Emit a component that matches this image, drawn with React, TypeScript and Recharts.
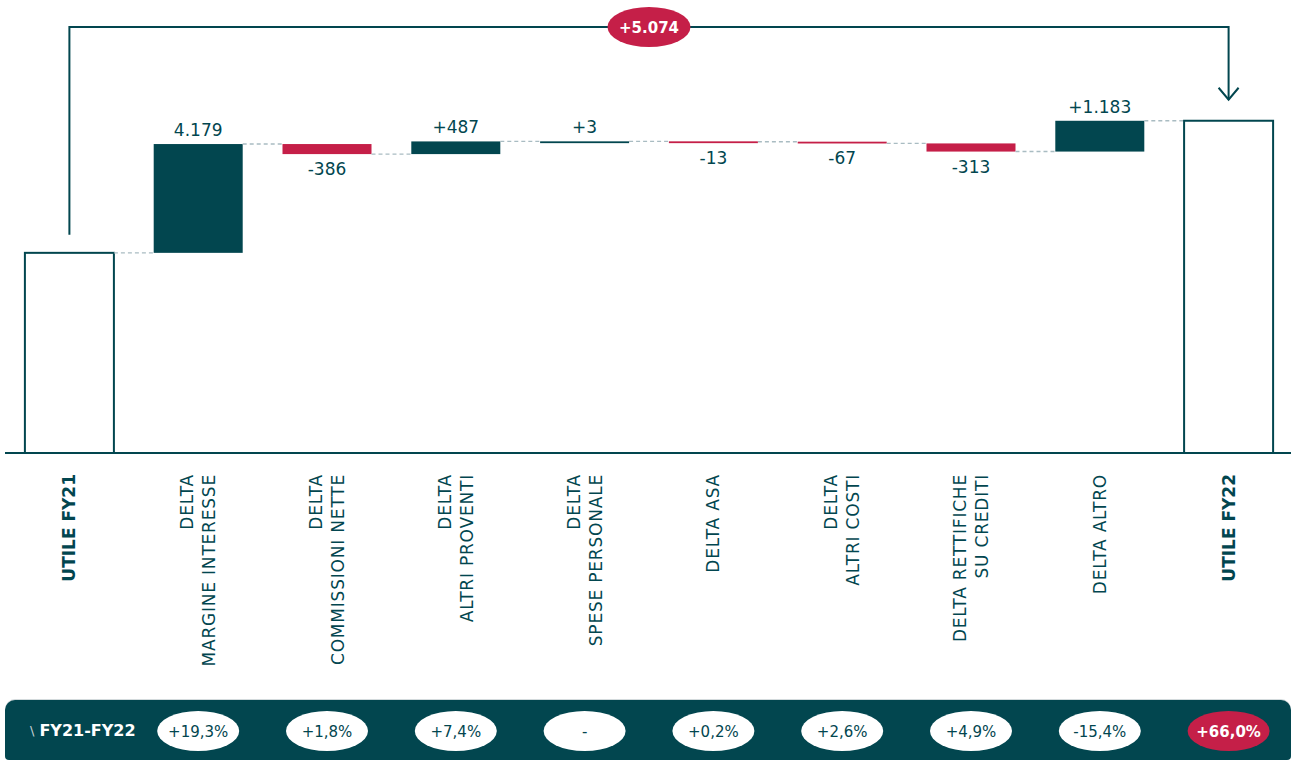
import React from 'react';
import { BarChart, Bar, XAxis, YAxis, ReferenceLine } from 'recharts';

const TEAL = '#02464F';
const RED = '#C51F48';
const DASH = '#A9BCC2';
const FONT = '"DejaVu Sans", sans-serif';

// ---- data ----
const categories = [
  'UTILE FY21',
  'DELTA\nMARGINE INTERESSE',
  'DELTA\nCOMMISSIONI NETTE',
  'DELTA\nALTRI PROVENTI',
  'DELTA\nSPESE PERSONALE',
  'DELTA ASA',
  'DELTA\nALTRI COSTI',
  'DELTA RETTIFICHE\nSU CREDITI',
  'DELTA ALTRO',
  'UTILE FY22',
];
const startTotal = 7688; // UTILE FY21
const endTotal = 12762; // UTILE FY22
const deltas = [4179, -386, 487, 3, -13, -67, -313, 1183];
const valueLabels = ['', '4.179', '-386', '+487', '+3', '-13', '-67', '-313', '+1.183', ''];
const changeLabels = ['', '+19,3%', '+1,8%', '+7,4%', '-', '+0,2%', '+2,6%', '+4,9%', '-15,4%', '+66,0%'];
const rowHeader = 'FY21-FY22';

const fmt = (n: number) => (n >= 0 ? '+' : '-') + String(Math.abs(n)).replace(/\B(?=(\d{3})+(?!\d))/g, '.');

let running = startTotal;
const data = categories.map((name, i) => {
  if (i === 0) {
    return { name, range: [0, startTotal], kind: 'total', label: valueLabels[i], change: changeLabels[i] };
  }
  if (i === categories.length - 1) {
    return { name, range: [0, endTotal], kind: 'total', label: valueLabels[i], change: changeLabels[i] };
  }
  const d = deltas[i - 1];
  const s = running;
  running += d;
  return {
    name,
    range: [Math.min(s, running), Math.max(s, running)],
    kind: d >= 0 ? 'up' : 'down',
    label: valueLabels[i],
    change: changeLabels[i],
  };
});

const GAP = 0.1545;

function WaterfallShape(props: any) {
  let { x, y, width, height } = props;
  const { payload, index } = props;
  if (height < 0) {
    y += height;
    height = -height;
  }
  const kind = payload.kind;
  const last = index === data.length - 1;
  const cx = x + width / 2;
  const endY = kind === 'down' ? y + height : y;
  const nextLeft = x + width + (width * 2 * GAP) / (1 - 2 * GAP);
  const h = Math.max(height, 1.8);
  return (
    <g>
      {kind === 'total' ? (
        <rect x={x} y={y} width={width} height={height} fill="#fff" stroke={TEAL} strokeWidth={2} />
      ) : (
        <rect x={x} y={y} width={width} height={h} fill={kind === 'up' ? TEAL : RED} />
      )}
      {!last && (
        <line x1={x + width} x2={nextLeft} y1={endY} y2={endY} stroke={DASH} strokeWidth={1.4} strokeDasharray="4 3" />
      )}
      {payload.label && (
        <text
          x={cx}
          y={kind === 'down' ? y + h + 21 : y - 8}
          textAnchor="middle"
          fontFamily={FONT}
          fontSize={17}
          fill={TEAL}
        >
          {payload.label}
        </text>
      )}
      {payload.change && (
        <g>
          <ellipse cx={cx} cy={731} rx={41} ry={20} fill={last ? RED : '#fff'} />
          <text
            x={cx}
            y={736.5}
            textAnchor="middle"
            fontFamily={FONT}
            fontSize={15}
            fontWeight={last ? 'bold' : 'normal'}
            fill={last ? '#fff' : TEAL}
          >
            {payload.change}
          </text>
        </g>
      )}
    </g>
  );
}

function CategoryTick(props: any) {
  const { x, y, payload } = props;
  const value = String(payload.value);
  const lines = value.split('\n');
  const bold = value.startsWith('UTILE');
  const n = lines.length;
  return (
    <g transform={`translate(${x},${y + 21}) rotate(-90)`}>
      <text
        textAnchor="end"
        fontFamily={FONT}
        fontSize={17}
        fontWeight={bold ? 'bold' : 'normal'}
        letterSpacing={bold ? 0 : 0.8}
        fill={TEAL}
      >
        {lines.map((ln, k) => (
          <tspan key={k} x={0} y={(k - (n - 1) / 2) * 22 + 6}>
            {ln}
          </tspan>
        ))}
      </text>
    </g>
  );
}

function BracketShape(props: any) {
  const { x1, y1, x2, y2 } = props;
  const top = 27;
  const mid = (x1 + x2) / 2;
  const tip = y2 - 21;
  return (
    <g>
      <path d={`M${x1},${y1 - 18} V${top} H${x2} V${tip}`} fill="none" stroke={TEAL} strokeWidth={2} />
      <path d={`M${x2 - 10},${tip - 12} L${x2},${tip} L${x2 + 10},${tip - 12}`} fill="none" stroke={TEAL} strokeWidth={2} />
      <ellipse cx={mid} cy={top} rx={41.5} ry={20} fill={RED} />
      <text x={mid} y={top + 5.5} textAnchor="middle" fontFamily={FONT} fontSize={15} fontWeight="bold" fill="#fff">
        {fmt(endTotal - startTotal)}
      </text>
    </g>
  );
}

export default function App() {
  return (
    <div
      style={{
        position: 'absolute',
        left: 0,
        top: 0,
        width: 1291,
        height: 760,
        overflow: 'hidden',
        background: '#fff',
        fontFamily: FONT,
      }}
    >
      <div
        style={{
          position: 'absolute',
          left: 5,
          top: 700,
          width: 1286,
          height: 60,
          background: TEAL,
          borderRadius: '10px 10px 4px 4px',
          boxShadow: '0 -1px 0 #d3dadc',
          display: 'flex',
          alignItems: 'center',
          color: '#fff',
        }}
      >
        <span style={{ marginLeft: 25, fontSize: 13, fontWeight: 'normal', marginRight: 5, color: '#c9d3d6' }}>\</span>
        <span style={{ fontSize: 16, fontWeight: 'bold' }}>{rowHeader}</span>
      </div>
      <div style={{ position: 'absolute', left: 0, top: 0 }}>
        <BarChart
          width={1293}
          height={760}
          data={data}
          margin={{ top: 0, right: 0, bottom: 0, left: 5 }}
          barCategoryGap="15.45%"
        >
          <YAxis hide domain={[0, 17400]} />
          <XAxis
            dataKey="name"
            interval={0}
            height={307}
            tickLine={false}
            tickSize={0}
            tickMargin={0}
            axisLine={{ stroke: TEAL, strokeWidth: 2 }}
            tick={<CategoryTick />}
          />
          <Bar dataKey="range" shape={WaterfallShape} isAnimationActive={false} />
          <ReferenceLine
            segment={[
              { x: categories[0], y: startTotal },
              { x: categories[categories.length - 1], y: endTotal },
            ]}
            shape={BracketShape}
          />
        </BarChart>
      </div>
    </div>
  );
}
